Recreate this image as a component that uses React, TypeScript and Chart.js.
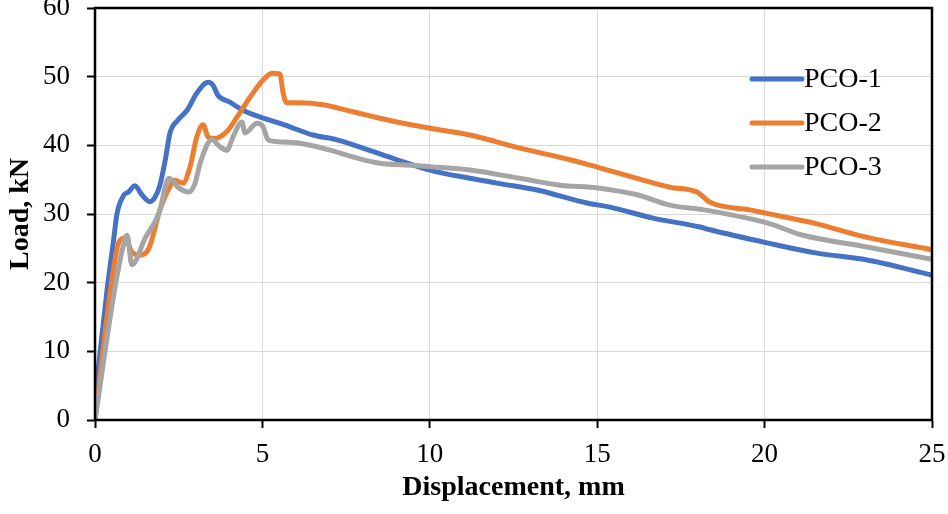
import React, { useEffect, useRef } from "react";
import { Chart, registerables } from "chart.js";

Chart.register(...registerables);

const seriesNames = ["PCO-1", "PCO-2", "PCO-3"];
const seriesColors = ["#4472C4", "#ED7D31", "#A5A5A5"];

const xTicks = [0, 5, 10, 15, 20, 25];
const yTicks = [0, 10, 20, 30, 40, 50, 60];

const pco1Disp = [0, 0.35, 0.55, 0.66, 0.87, 1.0, 1.19, 1.4, 1.64, 1.8, 1.94, 2.1, 2.24, 2.48, 2.75, 3.04, 3.38, 3.52, 3.67, 4.03, 4.42, 5.0, 5.53, 5.82, 6.51, 7.23, 8.0, 9.02, 10.0, 11.2, 12.0, 13.2, 14.7, 15.38, 16.67, 18.07, 18.37, 20.07, 21.56, 23.06, 25.0];
const pco1Load = [3, 18.5, 26, 30.1, 32.8, 33.2, 34.1, 32.8, 31.8, 32.5, 34.2, 37.9, 41.8, 43.7, 45.1, 47.6, 49.2, 48.8, 47.3, 46.3, 45.1, 44.0, 43.2, 42.7, 41.5, 40.8, 39.6, 37.9, 36.4, 35.2, 34.5, 33.5, 31.6, 31.0, 29.4, 28.1, 27.7, 25.8, 24.3, 23.3, 21.1];

const pco2Disp = [0, 0.45, 0.72, 0.9, 1.1, 1.31, 1.61, 1.94, 2.24, 2.39, 2.63, 2.84, 3.04, 3.23, 3.38, 3.58, 3.94, 4.24, 4.63, 5.02, 5.29, 5.52, 5.62, 5.73, 6.12, 6.81, 7.53, 8.12, 9.02, 10.0, 11.2, 12.69, 14.19, 15.02, 16.19, 17.17, 17.98, 18.37, 19.56, 21.06, 21.45, 23.06, 25.0];
const pco2Load = [0, 18.5, 26, 26.5, 24.5, 24, 25, 30.6, 34, 34.9, 34.5, 36.9, 41.2, 43, 41.2, 41.0, 42, 44.1, 47, 49.5, 50.5, 50.4, 47.6, 46.2, 46.2, 45.9, 45.1, 44.4, 43.4, 42.5, 41.5, 39.6, 37.9, 36.8, 35.2, 33.9, 33.2, 31.7, 30.6, 29.1, 28.7, 26.6, 24.8];

const pco3Disp = [0, 0.57, 0.85, 0.96, 1.1, 1.5, 1.91, 2.21, 2.5, 2.8, 2.99, 3.14, 3.49, 3.73, 3.94, 4.12, 4.39, 4.48, 4.84, 5.02, 5.17, 5.53, 6.12, 7.02, 7.71, 8.51, 9.5, 10.0, 11.2, 12.69, 13.89, 15.02, 16.19, 17.17, 18.2, 20.07, 21.15, 23.06, 25.0];
const pco3Load = [0, 18.5, 25.5, 26.9, 22.6, 26.5, 30.1, 35.2, 33.8, 33.2, 34.5, 37.4, 40.8, 39.8, 39.3, 41.2, 43.4, 41.8, 43.2, 42.7, 40.8, 40.5, 40.3, 39.3, 38.3, 37.4, 37.1, 36.9, 36.4, 35.2, 34.2, 33.8, 32.8, 31.3, 30.6, 28.7, 26.9, 25.2, 23.4];

const allDisp = [pco1Disp, pco2Disp, pco3Disp];
const allLoad = [pco1Load, pco2Load, pco3Load];

const FONT = "'Liberation Serif', 'Times New Roman', serif";

const framePlugin = {
  id: "frameAndLegend",
  afterDatasetsDraw(chart: any) {
    const { ctx, chartArea } = chart;
    const { left, right, top, bottom } = chartArea;
    ctx.save();
    ctx.strokeStyle = "#000";
    ctx.lineWidth = 2.5;
    ctx.strokeRect(left, top, right - left, bottom - top);

    // legend
    const x0 = right - 180;
    const x1 = right - 130;
    const y0 = top + 71;
    const gap = 44;
    ctx.font = `28px ${FONT}`;
    ctx.textBaseline = "middle";
    ctx.textAlign = "left";
    chart.data.datasets.forEach((ds: any, i: number) => {
      const y = y0 + i * gap;
      ctx.strokeStyle = ds.borderColor;
      ctx.lineWidth = 5;
      ctx.lineCap = "round";
      ctx.beginPath();
      ctx.moveTo(x0, y);
      ctx.lineTo(x1, y);
      ctx.stroke();
      ctx.fillStyle = "#000";
      ctx.fillText(ds.label, x1 + 2, y + 1);
    });
    ctx.restore();
  },
};

export default function App() {
  const ref = useRef<HTMLCanvasElement>(null);

  useEffect(() => {
    document.body.style.margin = "0";
    const canvas = ref.current;
    if (!canvas) return;
    const datasets = seriesNames.map((name, i) => ({
      label: name,
      data: allDisp[i].map((d, j) => ({ x: d, y: allLoad[i][j] })),
      borderColor: seriesColors[i],
      backgroundColor: seriesColors[i],
      borderWidth: 5,
      pointRadius: 0,
      pointHoverRadius: 0,
      cubicInterpolationMode: "monotone" as const,
      borderCapStyle: "round" as const,
      borderJoinStyle: "round" as const,
      fill: false,
      order: 3 - i,
    }));

    const chart = new Chart(canvas, {
      type: "line",
      data: { datasets },
      plugins: [framePlugin],
      options: {
        animation: false,
        responsive: false,
        devicePixelRatio: 1,
        layout: { padding: { top: 8, right: 16, left: 0, bottom: 0 } },
        plugins: {
          legend: { display: false },
          tooltip: { enabled: false },
        },
        scales: {
          x: {
            type: "linear",
            min: 0,
            max: 25,
            afterBuildTicks: (scale: any) => {
              scale.ticks = xTicks.map((v) => ({ value: v }));
            },
            afterFit: (scale: any) => {
              scale.height = 94;
              scale.paddingLeft = 0;
              scale.paddingRight = 0;
            },
            ticks: {
              color: "#000",
              font: { family: FONT, size: 27 },
              padding: 11,
              maxRotation: 0,
            },
            grid: {
              color: "#d9d9d9",
              lineWidth: 1,
              tickColor: "#000",
              tickWidth: 2,
              tickLength: 8,
            },
            border: { display: true, color: "#000", width: 2 },
            title: {
              display: true,
              text: "Displacement, mm",
              color: "#000",
              font: { family: FONT, size: 28, weight: "bold" },
              padding: { top: 0, bottom: 9 },
            },
          },
          y: {
            type: "linear",
            min: 0,
            max: 60,
            afterBuildTicks: (scale: any) => {
              scale.ticks = yTicks.map((v) => ({ value: v }));
            },
            afterFit: (scale: any) => {
              scale.width = 95;
              scale.paddingTop = 0;
              scale.paddingBottom = 0;
            },
            ticks: {
              color: "#000",
              font: { family: FONT, size: 27 },
              padding: 17,
            },
            grid: {
              color: "#d9d9d9",
              lineWidth: 1,
              tickColor: "#000",
              tickWidth: 2,
              tickLength: 8,
            },
            border: { display: true, color: "#000", width: 2 },
            title: {
              display: true,
              text: "Load, kN",
              color: "#000",
              font: { family: FONT, size: 28, weight: "bold" },
              padding: { top: 4, bottom: 0 },
            },
          },
        },
      },
    });
    return () => chart.destroy();
  }, []);

  return (
    <div style={{ position: "fixed", left: 0, top: 0, width: 948, height: 514, background: "#fff" }}>
      <canvas ref={ref} width={948} height={514} style={{ display: "block", width: 948, height: 514 }} />
    </div>
  );
}
